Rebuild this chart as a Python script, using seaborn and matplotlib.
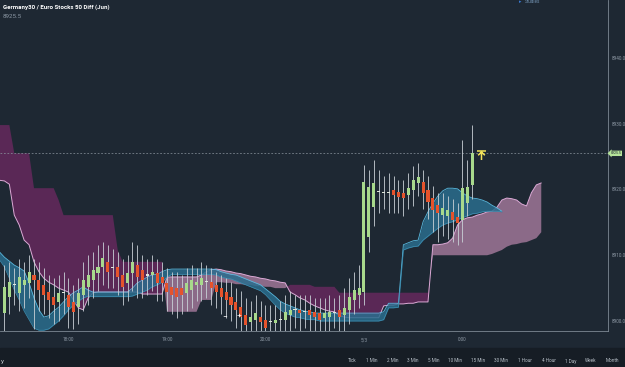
import matplotlib
matplotlib.use("Agg")
import matplotlib.pyplot as plt
import matplotlib.transforms as mtransforms
from matplotlib.path import Path
from matplotlib.patches import Rectangle
import numpy as np
import pandas as pd
import seaborn as sns

# ---------------- data ----------------
title = "Germany30 / Euro Stocks 50 Diff (Jun)"
last_price = 8925.5

opens = [8901.2, 8903.6, 8905.6, 8904.3, 8905.5, 8905.8, 8907.0, 8906.2, 8905.5, 8904.4,
         8903.6, 8902.9, 8904.3, 8904.0, 8902.9, 8902.1, 8904.0, 8905.2, 8906.2, 8907.3,
         8908.2, 8909.0, 8908.2, 8908.2, 8907.0, 8905.8, 8907.3, 8908.5, 8907.8, 8906.9,
         8907.0, 8907.3, 8906.7, 8905.8, 8905.2, 8905.0, 8905.0, 8904.3, 8904.7, 8905.5,
         8905.5, 8905.9, 8905.9, 8905.5, 8905.0, 8904.4, 8903.6, 8902.9, 8902.1, 8900.9,
         8899.8, 8900.2, 8900.6, 8900.2, 8899.8, 8899.7, 8900.1, 8900.2, 8900.9, 8901.7,
         8901.7, 8901.5, 8901.7, 8901.4, 8901.2, 8900.4, 8900.6, 8901.2, 8901.7, 8900.9,
         8901.7, 8903.2, 8904.0, 8904.4, 8912.8, 8917.3, 8919.6, 8919.5, 8919.5, 8919.9,
         8919.6, 8919.5, 8919.2, 8919.9, 8921.0, 8921.1, 8919.9, 8918.7, 8917.6, 8916.1,
         8915.9, 8916.6, 8915.8, 8915.4, 8918.0, 8920.7]
closes = [8905.2, 8905.9, 8905.4, 8906.7, 8906.2, 8907.5, 8906.2, 8904.7, 8904.0, 8903.2,
          8902.4, 8904.3, 8904.2, 8902.1, 8901.4, 8904.3, 8906.2, 8907.0, 8907.8, 8908.2,
          8909.6, 8907.5, 8908.1, 8906.7, 8905.2, 8907.3, 8909.0, 8906.7, 8906.2, 8907.0,
          8907.4, 8905.8, 8905.8, 8904.4, 8904.0, 8903.6, 8904.0, 8905.8, 8906.2, 8905.9,
          8906.5, 8906.0, 8905.0, 8904.4, 8903.6, 8903.2, 8902.4, 8901.7, 8900.6, 8899.4,
          8900.6, 8901.2, 8899.8, 8898.9, 8899.9, 8900.2, 8900.2, 8901.4, 8901.7, 8901.7,
          8901.2, 8901.4, 8900.9, 8900.6, 8900.2, 8901.2, 8901.4, 8901.3, 8900.6, 8902.0,
          8903.6, 8904.7, 8905.0, 8921.1, 8920.4, 8921.0, 8919.7, 8919.6, 8919.4, 8919.2,
          8918.9, 8918.7, 8920.2, 8921.4, 8921.9, 8919.5, 8918.1, 8916.9, 8916.4, 8917.2,
          8916.9, 8915.4, 8914.9, 8920.2, 8920.4, 8925.5]
highs = [8908.5, 8909.0, 8908.0, 8909.5, 8909.0, 8910.0, 8909.5, 8909.0, 8908.0, 8907.0,
         8906.5, 8907.0, 8907.5, 8906.5, 8905.5, 8906.5, 8909.0, 8910.0, 8910.5, 8911.5,
         8912.0, 8911.5, 8911.0, 8910.5, 8909.5, 8910.0, 8912.0, 8911.5, 8910.0, 8909.5,
         8910.0, 8909.5, 8909.0, 8908.0, 8907.5, 8907.5, 8907.0, 8908.0, 8908.5, 8908.0,
         8909.0, 8908.5, 8908.0, 8907.5, 8907.0, 8906.5, 8906.0, 8905.0, 8904.5, 8903.5,
         8903.0, 8904.0, 8903.0, 8902.5, 8902.5, 8902.5, 8903.0, 8904.0, 8904.5, 8904.0,
         8904.0, 8904.0, 8904.0, 8903.5, 8903.5, 8903.5, 8904.0, 8903.5, 8904.0, 8905.0,
         8906.5, 8907.5, 8908.5, 8923.7, 8923.0, 8924.5, 8923.0, 8922.0, 8922.5, 8922.0,
         8921.5, 8921.5, 8922.5, 8923.5, 8924.0, 8923.0, 8922.0, 8920.5, 8919.5, 8919.5,
         8919.0, 8918.5, 8918.0, 8927.5, 8924.5, 8929.8]
lows = [8898.5, 8901.0, 8902.5, 8901.5, 8902.0, 8903.5, 8898.8, 8901.5, 8901.0, 8900.5,
        8899.5, 8900.0, 8901.0, 8899.0, 8898.8, 8899.5, 8901.5, 8902.5, 8903.5, 8904.5,
        8905.5, 8905.0, 8905.0, 8904.0, 8902.5, 8903.0, 8904.5, 8903.5, 8903.5, 8904.0,
        8904.5, 8903.0, 8903.0, 8901.5, 8901.0, 8900.5, 8901.0, 8901.5, 8902.0, 8903.0,
        8903.0, 8903.5, 8902.5, 8902.0, 8901.0, 8900.5, 8900.0, 8899.0, 8898.0, 8897.5,
        8897.5, 8898.0, 8897.5, 8897.0, 8897.5, 8897.5, 8898.0, 8898.0, 8898.5, 8899.0,
        8898.5, 8899.0, 8898.5, 8898.0, 8897.8, 8898.0, 8898.5, 8899.0, 8898.5, 8898.5,
        8899.5, 8901.0, 8902.0, 8902.5, 8910.5, 8914.5, 8916.5, 8917.0, 8916.5, 8916.5,
        8916.5, 8916.0, 8917.0, 8917.5, 8919.0, 8917.0, 8915.5, 8913.5, 8912.0, 8913.0,
        8912.5, 8912.0, 8911.5, 8912.0, 8916.0, 8918.5]

# cloud series start one bar before the first candle
cloud_start = -1
span_a = [8921.4, 8921.3, 8920.8, 8916.1, 8914.6, 8912.3, 8911.6, 8909.0, 8907.5, 8906.5,
          8905.9, 8905.5, 8905.0, 8904.7, 8904.4, 8903.2, 8902.0, 8901.7, 8903.5, 8904.3,
          8904.4, 8904.4, 8904.4, 8904.4, 8904.4, 8904.4, 8904.4, 8904.4, 8904.4, 8904.1,
          8904.1, 8904.1, 8904.1, 8904.1, 8906.7, 8906.7, 8906.7, 8906.7, 8906.7, 8906.7,
          8906.7, 8907.0, 8907.5, 8907.8, 8907.9, 8907.8, 8907.6, 8907.5, 8907.3, 8907.2,
          8907.0, 8906.8, 8906.7, 8906.5, 8906.4, 8906.2, 8906.1, 8905.9, 8905.8, 8904.4,
          8904.0, 8903.5, 8903.2, 8902.7, 8902.3, 8902.0, 8901.7, 8901.5, 8901.4, 8900.8,
          8900.6, 8900.5, 8900.5, 8900.5, 8900.5, 8900.5, 8900.5, 8900.5, 8902.3, 8902.4,
          8902.4, 8902.6, 8902.6, 8902.7, 8902.7, 8902.9, 8902.9, 8902.9, 8911.6, 8911.6,
          8911.7, 8911.9, 8912.6, 8914.6, 8915.4, 8915.7, 8915.8, 8916.1, 8916.3, 8916.6,
          8916.7, 8917.3, 8918.4, 8918.7, 8918.6, 8918.4, 8917.8, 8917.5, 8919.5, 8920.7,
          8921.0]
span_b = [8929.8, 8929.8, 8929.8, 8925.5, 8925.5, 8925.5, 8925.5, 8920.2, 8920.2, 8920.2,
          8920.2, 8920.2, 8918.4, 8916.1, 8916.1, 8916.1, 8916.1, 8916.1, 8916.1, 8916.1,
          8916.1, 8916.1, 8916.1, 8916.1, 8910.8, 8909.0, 8909.0, 8909.0, 8909.0, 8909.0,
          8909.0, 8909.0, 8909.0, 8909.0, 8901.4, 8901.4, 8901.4, 8901.4, 8901.4, 8901.4,
          8901.4, 8903.2, 8903.2, 8903.2, 8905.9, 8905.9, 8905.8, 8905.8, 8905.6, 8905.6,
          8905.5, 8905.5, 8905.3, 8905.3, 8905.2, 8905.2, 8905.0, 8905.0, 8905.0, 8905.5,
          8905.5, 8905.5, 8905.5, 8905.5, 8905.2, 8905.2, 8905.2, 8905.2, 8905.2, 8904.3,
          8904.3, 8904.3, 8904.3, 8904.3, 8904.3, 8904.3, 8904.3, 8904.3, 8904.3, 8904.3,
          8904.3, 8904.3, 8904.3, 8904.3, 8904.3, 8904.3, 8904.3, 8904.3, 8910.0, 8910.0,
          8910.0, 8910.0, 8910.0, 8910.0, 8910.0, 8910.0, 8910.0, 8910.0, 8910.0, 8910.0,
          8910.2, 8910.5, 8910.8, 8911.3, 8911.6, 8911.7, 8911.9, 8912.0, 8912.3, 8912.6,
          8913.5]
blue_top = [8910.5, 8909.7, 8909.1, 8908.5, 8908.1, 8907.6, 8905.8, 8903.5, 8901.7, 8900.6,
            8900.8, 8901.5, 8902.1, 8902.9, 8903.7, 8904.3, 8904.7, 8905.2, 8904.7, 8904.4,
            8904.4, 8904.4, 8904.4, 8904.4, 8904.4, 8904.4, 8904.4, 8905.0, 8905.8, 8906.2,
            8906.7, 8907.0, 8907.1, 8907.5, 8907.8, 8907.9, 8907.9, 8907.9, 8907.9, 8907.9,
            8907.9, 8907.9, 8907.9, 8907.9, 8907.8, 8907.5, 8907.3, 8907.1, 8907.0, 8906.7,
            8906.4, 8906.1, 8905.8, 8905.5, 8904.9, 8904.3, 8903.7, 8903.0, 8902.6, 8902.3,
            8902.0, 8901.7, 8901.5, 8901.4, 8901.2, 8901.2, 8901.2, 8901.2, 8901.2, 8901.2,
            8901.2, 8901.2, 8901.2, 8901.2, 8901.2, 8901.2, 8901.2, 8901.2, 8901.4, 8902.7,
            8902.7, 8902.7, 8911.6, 8911.9, 8912.2, 8912.3, 8915.1, 8916.6, 8917.9, 8919.0,
            8919.8, 8920.2, 8920.2, 8920.1, 8919.5, 8919.0, 8918.7, 8918.6, 8918.4, 8918.1,
            8917.6, 8917.2, 8916.7]
blue_bot = [8909.3, 8908.2, 8906.5, 8904.7, 8903.2, 8901.5, 8900.2, 8898.9, 8898.6, 8898.6,
            8898.8, 8899.4, 8900.0, 8900.8, 8901.7, 8902.4, 8903.0, 8903.5, 8903.8, 8903.7,
            8903.7, 8903.7, 8903.7, 8903.7, 8903.7, 8903.7, 8903.7, 8903.8, 8904.1, 8904.4,
            8904.7, 8905.2, 8905.5, 8905.9, 8906.7, 8907.1, 8907.1, 8907.1, 8907.1, 8907.1,
            8907.1, 8907.1, 8907.1, 8907.1, 8907.0, 8906.7, 8906.5, 8906.4, 8906.1, 8905.8,
            8905.5, 8905.2, 8904.9, 8904.6, 8904.0, 8903.2, 8902.4, 8901.7, 8901.2, 8900.9,
            8900.6, 8900.5, 8900.3, 8900.2, 8900.2, 8900.0, 8900.0, 8900.0, 8900.0, 8900.0,
            8900.0, 8900.0, 8900.0, 8900.0, 8900.0, 8900.0, 8900.0, 8900.0, 8900.2, 8902.0,
            8902.0, 8902.1, 8910.8, 8911.1, 8911.3, 8911.4, 8912.3, 8912.9, 8913.5, 8914.1,
            8914.6, 8914.9, 8915.1, 8915.4, 8915.7, 8916.0, 8916.3, 8916.4, 8916.6, 8916.7,
            8916.7, 8916.7, 8916.6]

time_ticks = [13, 33, 53, 73, 93]
time_labels = ["18:00", "19:00", "20:00", "5/3", "0:00"]
price_ticks = [8900.0, 8910.0, 8920.0, 8930.0, 8940.0]
timeframes = ["Tick", "1 Min", "2 Min", "3 Min", "5 Min", "10 Min", "15 Min",
              "30 Min", "1 Hour", "4 Hour", "1 Day", "Week", "Month"]

# ---------------- layout / style ----------------
W, H = 625, 367
tf_px = [352.5, 372, 393, 413, 433.5, 454.5, 478.5, 500.5, 525, 548.5, 571, 590.5, 612]
BG = "#1e2833"
BAR_BG = "#161d25"
TXT = "#8e99a5"

sns.set_theme(style="dark")
plt.rcParams['font.family'] = ['Roboto', 'DejaVu Sans']

fig = plt.figure(figsize=(W / 100, H / 100), dpi=100, facecolor=BG)
ax = fig.add_axes([0, 1 - 331 / H, 608 / W, 331 / H])
ax.set_facecolor(BG)

cloud_x = np.arange(len(span_a)) + cloud_start
blue_x = np.arange(len(blue_top)) + cloud_start
a = np.array(span_a)
b = np.array(span_b)

ax.fill_between(cloud_x, a, b, where=b >= a, interpolate=True, color="#5a2856", lw=0, zorder=1)
ax.fill_between(cloud_x, a, b, where=a >= b, interpolate=True, color="#8b6a88", lw=0, zorder=1)
sns.lineplot(x=cloud_x, y=a, ax=ax, color="#dcaad6", lw=0.7, zorder=1.5)

ax.fill_between(blue_x, blue_top, blue_bot, color="#2a6d8d", alpha=0.85, lw=0, zorder=2)
sns.lineplot(x=blue_x, y=np.array(blue_top), ax=ax, color="#58b8de", lw=0.6, zorder=2.5)
sns.lineplot(x=blue_x, y=np.array(blue_bot), ax=ax, color="#3f94b8", lw=0.45, zorder=2.5)

# candles
cx = np.arange(len(opens))
o = np.array(opens)
c = np.array(closes)
body_colors = np.where(np.abs(c - o) < 0.25, "#dfe6da", np.where(c > o, "#a8d98c", "#e5532c"))
ax.vlines(cx, lows, highs, color="#c9d0d6", lw=0.6, zorder=3)
ax.bar(cx, np.maximum(np.abs(c - o), 0.18), bottom=np.minimum(o, c), width=0.62,
       color=body_colors, lw=0, zorder=4)

# last price line and tag
ax.axhline(last_price, color="#8c96a0", lw=0.5, ls=(0, (2.5, 2.5)), zorder=2.8)
trans = mtransforms.blended_transform_factory(ax.transAxes, ax.transData)
ax.text(1.004, last_price, f"{last_price:.1f}", transform=trans, fontsize=2.5,
        color="#1e2833", va="center", ha="left", clip_on=False, zorder=6,
        bbox=dict(boxstyle="larrow,pad=0.2", fc="#b5e39a", ec="none"))

# signal icon next to the last candle
icon = Path([(-1, 1), (1, 1), (-0.75, 0.05), (0, 0.75), (0.75, 0.05), (0, 0.75), (0, -1)],
            [Path.MOVETO, Path.LINETO, Path.MOVETO, Path.LINETO, Path.LINETO,
             Path.MOVETO, Path.LINETO])
ax.plot([len(opens) + 0.8], [last_price - 0.2], marker=icon, ms=6.5, mew=1.1,
        mec="#f2e35a", mfc="none", ls="none", zorder=6)

# zoom buttons
ax.text(225 / 608, 15 / 331, "\u2212", transform=ax.transAxes, color="white",
        fontsize=6, ha="center", va="center", zorder=7)
ax.text(239 / 608, 15 / 331, "+", transform=ax.transAxes, color="white",
        fontsize=6, ha="center", va="center", zorder=7)

ax.set_xlim(-0.9, 122.55)
ax.set_ylim(8898.48, 8948.82)
ax.set_xticks(time_ticks, time_labels)
ax.set_yticks(price_ticks, [f"{v:.1f}" for v in price_ticks])
ax.yaxis.tick_right()
ax.tick_params(axis="both", length=0, colors=TXT, labelsize=3.3)
ax.tick_params(axis="x", pad=4.5)
ax.tick_params(axis="y", pad=3)
ax.grid(False)
ax.set_xlabel("")
ax.set_ylabel("")
for s in ["top", "left"]:
    ax.spines[s].set_visible(False)
for s in ["right", "bottom"]:
    ax.spines[s].set_visible(True)
    ax.spines[s].set_color("#7d8893")
    ax.spines[s].set_linewidth(0.6)

# header
fig.text(3 / W, 1 - 7 / H, title, fontsize=4.4, fontweight="bold", color="white",
         ha="left", va="center")
fig.text(3 / W, 1 - 16 / H, f"{last_price:.1f}", fontsize=4.4, color="#8d99a6",
         ha="left", va="center")
fig.text(519 / W, 1 - 1.5 / H, "\u25b8", fontsize=3.5, color="#3a7bd5", ha="left", va="center")
fig.text(525 / W, 1 - 1.5 / H, "Studies", fontsize=3.3, color="#6f8fae", ha="left", va="center")

# bottom bar
fig.add_artist(Rectangle((0, 0), 1, 19 / H, transform=fig.transFigure, color=BAR_BG,
                         zorder=0))
fig.text(1 / W, 4 / H, "y", fontsize=4.5, color="#c8cfd6", ha="left", va="baseline")
for lab, px in zip(timeframes, tf_px):
    fig.text(px / W, 4.5 / H, lab, fontsize=3.3, color="#b8c0c8", ha="center", va="baseline")

fig.savefig("out.png", dpi=100, facecolor=BG)
